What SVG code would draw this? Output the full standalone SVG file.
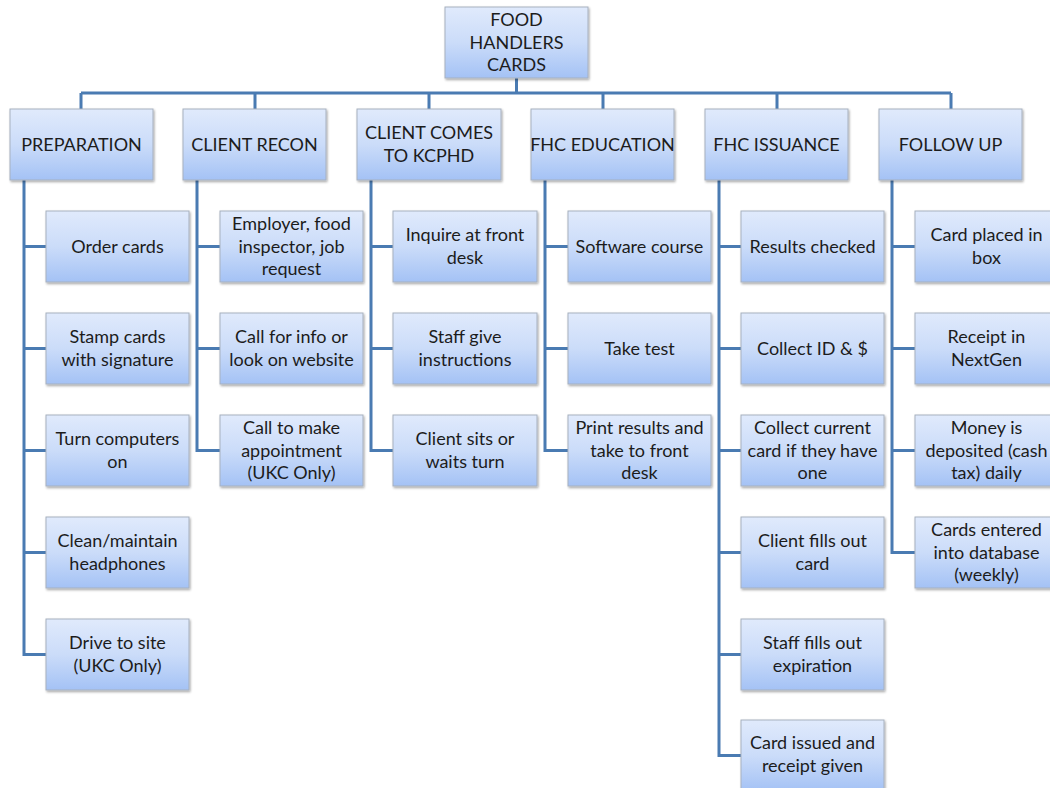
<svg xmlns="http://www.w3.org/2000/svg" width="1050" height="788" viewBox="0 0 1050 788">
<defs>
<linearGradient id="g" x1="0" y1="0" x2="0" y2="1">
<stop offset="0" stop-color="#e0eafc"/>
<stop offset="0.5" stop-color="#cbdcf9"/>
<stop offset="1" stop-color="#a4c2f5"/>
</linearGradient>
<filter id="sh" x="-10%" y="-10%" width="120%" height="130%">
<feDropShadow dx="1" dy="1.5" stdDeviation="1" flood-color="#000" flood-opacity="0.35"/>
</filter>
</defs>
<style>
.b{fill:url(#g);stroke:#a7b1bf;stroke-width:1;filter:url(#sh)}
.t{font-family:Lato,"Liberation Sans",sans-serif;font-size:18px;fill:#1c1c1c;text-anchor:middle}
.c{fill:none;stroke:#4a7bb2;stroke-width:3}
</style>
<rect width="1050" height="788" fill="#fff"/>
<g id="connectors">
<path class="c" d="M516.5 78V93M81 93H951M81 93V109M255 93V109M429 93V109M603 93V109M777 93V109M951 93V109"/>
<path class="c" d="M24 180V654.5H46M24 246.5H46M24 348.5H46M24 450.5H46M24 552.5H46"/>
<path class="c" d="M197 180V450.5H220M197 246.5H220M197 348.5H220"/>
<path class="c" d="M371 180V450.5H393M371 246.5H393M371 348.5H393"/>
<path class="c" d="M545 180V450.5H568M545 246.5H568M545 348.5H568"/>
<path class="c" d="M719 180V755.5H741M719 246.5H741M719 348.5H741M719 450.5H741M719 552.5H741M719 654.5H741"/>
<path class="c" d="M892 180V552.5H915M892 246.5H915M892 348.5H915M892 450.5H915"/>
</g>
<g id="root"><rect class="b" x="445" y="7" width="143" height="71"/><text class="t" x="516.5"><tspan x="516.5" y="26">FOOD</tspan><tspan x="516.5" y="49">HANDLERS</tspan><tspan x="516.5" y="71">CARDS</tspan></text></g>

<g id="preparation"><rect class="b" x="10" y="109" width="143" height="71"/><text class="t" x="81.5" y="150.5">PREPARATION</text></g>
<g id="client-recon"><rect class="b" x="183" y="109" width="143" height="71"/><text class="t" x="254.5" y="150.5">CLIENT RECON</text></g>
<g id="client-comes"><rect class="b" x="357" y="109" width="144" height="71"/><text class="t"><tspan x="429" y="139">CLIENT COMES</tspan><tspan x="429" y="162">TO KCPHD</tspan></text></g>
<g id="fhc-education"><rect class="b" x="531" y="109" width="143" height="71"/><text class="t" x="602.5" y="150.5">FHC EDUCATION</text></g>
<g id="fhc-issuance"><rect class="b" x="705" y="109" width="143" height="71"/><text class="t" x="776.5" y="150.5">FHC ISSUANCE</text></g>
<g id="follow-up"><rect class="b" x="879" y="109" width="143" height="71"/><text class="t" x="950.5" y="150.5">FOLLOW UP</text></g>

<g id="p1"><rect class="b" x="46" y="211" width="143" height="71"/><text class="t" x="117.5" y="252.5">Order cards</text></g>
<g id="p2"><rect class="b" x="46" y="313" width="143" height="71"/><text class="t"><tspan x="117.5" y="343">Stamp cards</tspan><tspan x="117.5" y="365.5">with signature</tspan></text></g>
<g id="p3"><rect class="b" x="46" y="415" width="143" height="71"/><text class="t"><tspan x="117.5" y="445">Turn computers</tspan><tspan x="117.5" y="467.5">on</tspan></text></g>
<g id="p4"><rect class="b" x="46" y="517" width="143" height="71"/><text class="t"><tspan x="117.5" y="547">Clean/maintain</tspan><tspan x="117.5" y="569.5">headphones</tspan></text></g>
<g id="p5"><rect class="b" x="46" y="619" width="143" height="71"/><text class="t"><tspan x="117.5" y="649">Drive to site</tspan><tspan x="117.5" y="671.5">(UKC Only)</tspan></text></g>

<g id="r1"><rect class="b" x="220" y="211" width="143" height="71"/><text class="t"><tspan x="291.5" y="230">Employer, food</tspan><tspan x="291.5" y="252.5">inspector, job</tspan><tspan x="291.5" y="275">request</tspan></text></g>
<g id="r2"><rect class="b" x="220" y="313" width="143" height="71"/><text class="t"><tspan x="291.5" y="343">Call for info or</tspan><tspan x="291.5" y="365.5">look on website</tspan></text></g>
<g id="r3"><rect class="b" x="220" y="415" width="143" height="71"/><text class="t"><tspan x="291.5" y="434">Call to make</tspan><tspan x="291.5" y="456.5">appointment</tspan><tspan x="291.5" y="479">(UKC Only)</tspan></text></g>

<g id="k1"><rect class="b" x="393" y="211" width="144" height="71"/><text class="t"><tspan x="465" y="241">Inquire at front</tspan><tspan x="465" y="263.5">desk</tspan></text></g>
<g id="k2"><rect class="b" x="393" y="313" width="144" height="71"/><text class="t"><tspan x="465" y="343">Staff give</tspan><tspan x="465" y="365.5">instructions</tspan></text></g>
<g id="k3"><rect class="b" x="393" y="415" width="144" height="71"/><text class="t"><tspan x="465" y="445">Client sits or</tspan><tspan x="465" y="467.5">waits turn</tspan></text></g>

<g id="e1"><rect class="b" x="568" y="211" width="143" height="71"/><text class="t" x="639.5" y="252.5">Software course</text></g>
<g id="e2"><rect class="b" x="568" y="313" width="143" height="71"/><text class="t" x="639.5" y="354.5">Take test</text></g>
<g id="e3"><rect class="b" x="568" y="415" width="143" height="71"/><text class="t"><tspan x="639.5" y="434">Print results and</tspan><tspan x="639.5" y="456.5">take to front</tspan><tspan x="639.5" y="479">desk</tspan></text></g>

<g id="i1"><rect class="b" x="741" y="211" width="143" height="71"/><text class="t" x="812.5" y="252.5">Results checked</text></g>
<g id="i2"><rect class="b" x="741" y="313" width="143" height="71"/><text class="t" x="812.5" y="354.5">Collect ID &amp; $</text></g>
<g id="i3"><rect class="b" x="741" y="415" width="143" height="71"/><text class="t"><tspan x="812.5" y="434">Collect current</tspan><tspan x="812.5" y="456.5">card if they have</tspan><tspan x="812.5" y="479">one</tspan></text></g>
<g id="i4"><rect class="b" x="741" y="517" width="143" height="71"/><text class="t"><tspan x="812.5" y="547">Client fills out</tspan><tspan x="812.5" y="569.5">card</tspan></text></g>
<g id="i5"><rect class="b" x="741" y="619" width="143" height="71"/><text class="t"><tspan x="812.5" y="649">Staff fills out</tspan><tspan x="812.5" y="671.5">expiration</tspan></text></g>
<g id="i6"><rect class="b" x="741" y="720" width="143" height="71"/><text class="t"><tspan x="812.5" y="749">Card issued and</tspan><tspan x="812.5" y="771.5">receipt given</tspan></text></g>

<g id="f1"><rect class="b" x="915" y="211" width="143" height="71"/><text class="t"><tspan x="986.5" y="241">Card placed in</tspan><tspan x="986.5" y="263.5">box</tspan></text></g>
<g id="f2"><rect class="b" x="915" y="313" width="143" height="71"/><text class="t"><tspan x="986.5" y="343">Receipt in</tspan><tspan x="986.5" y="365.5">NextGen</tspan></text></g>
<g id="f3"><rect class="b" x="915" y="415" width="143" height="71"/><text class="t"><tspan x="986.5" y="434">Money is</tspan><tspan x="986.5" y="456.5">deposited (cash</tspan><tspan x="986.5" y="479">tax) daily</tspan></text></g>
<g id="f4"><rect class="b" x="915" y="517" width="143" height="71"/><text class="t"><tspan x="986.5" y="536">Cards entered</tspan><tspan x="986.5" y="558.5">into database</tspan><tspan x="986.5" y="581">(weekly)</tspan></text></g>
</svg>
